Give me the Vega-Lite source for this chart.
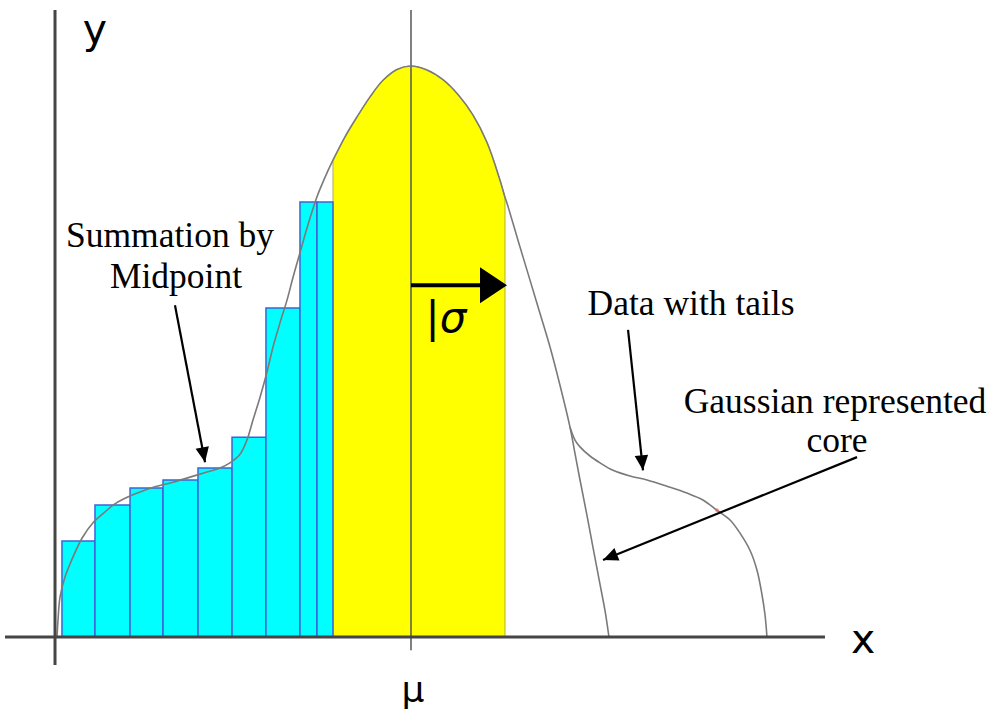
{
  "$schema": "https://vega.github.io/schema/vega-lite/v6.json",
  "width": 993,
  "height": 717,
  "autosize": {"type": "fit", "contains": "padding"},
  "padding": 0,
  "background": "white",
  "config": {"view": {"stroke": null}},
  "datasets": {
    "yellow": [
      {"x": -0.830, "y": 0.835}, {"x": -0.702, "y": 0.876}, {"x": -0.574, "y": 0.911},
      {"x": -0.436, "y": 0.946}, {"x": -0.298, "y": 0.975}, {"x": -0.149, "y": 0.994},
      {"x": 0, "y": 1}, {"x": 0.170, "y": 0.993}, {"x": 0.340, "y": 0.976},
      {"x": 0.500, "y": 0.950}, {"x": 0.660, "y": 0.914}, {"x": 0.809, "y": 0.866},
      {"x": 0.947, "y": 0.800}, {"x": 1.000, "y": 0.770}
    ],
    "bars": [
      {"x0": -3.713, "x1": -3.362, "top": 0.168},
      {"x0": -3.362, "x1": -2.989, "top": 0.231},
      {"x0": -2.989, "x1": -2.638, "top": 0.261},
      {"x0": -2.638, "x1": -2.266, "top": 0.275},
      {"x0": -2.266, "x1": -1.904, "top": 0.296},
      {"x0": -1.904, "x1": -1.543, "top": 0.350},
      {"x0": -1.543, "x1": -1.181, "top": 0.576},
      {"x0": -1.181, "x1": -1.000, "top": 0.762},
      {"x0": -1.000, "x1": -0.830, "top": 0.762}
    ],
    "curves": [
      {"series": "core", "x": -3.766, "y": 0}, {"series": "core", "x": -3.755, "y": 0.030},
      {"series": "core", "x": -3.734, "y": 0.070}, {"series": "core", "x": -3.681, "y": 0.105},
      {"series": "core", "x": -3.596, "y": 0.140}, {"series": "core", "x": -3.500, "y": 0.173},
      {"series": "core", "x": -3.383, "y": 0.200}, {"series": "core", "x": -3.255, "y": 0.219},
      {"series": "core", "x": -3.170, "y": 0.231}, {"series": "core", "x": -3.043, "y": 0.243},
      {"series": "core", "x": -2.883, "y": 0.254}, {"series": "core", "x": -2.723, "y": 0.263},
      {"series": "core", "x": -2.532, "y": 0.271}, {"series": "core", "x": -2.351, "y": 0.280},
      {"series": "core", "x": -2.170, "y": 0.289}, {"series": "core", "x": -2.032, "y": 0.296},
      {"series": "core", "x": -1.926, "y": 0.305}, {"series": "core", "x": -1.819, "y": 0.320},
      {"series": "core", "x": -1.745, "y": 0.345}, {"series": "core", "x": -1.681, "y": 0.380},
      {"series": "core", "x": -1.606, "y": 0.420}, {"series": "core", "x": -1.532, "y": 0.464},
      {"series": "core", "x": -1.468, "y": 0.508}, {"series": "core", "x": -1.394, "y": 0.550},
      {"series": "core", "x": -1.319, "y": 0.590}, {"series": "core", "x": -1.255, "y": 0.630},
      {"series": "core", "x": -1.181, "y": 0.673}, {"series": "core", "x": -1.096, "y": 0.722},
      {"series": "core", "x": -1.000, "y": 0.771}, {"series": "core", "x": -0.915, "y": 0.805},
      {"series": "core", "x": -0.830, "y": 0.835}, {"series": "core", "x": -0.702, "y": 0.876},
      {"series": "core", "x": -0.574, "y": 0.911}, {"series": "core", "x": -0.436, "y": 0.946},
      {"series": "core", "x": -0.298, "y": 0.975}, {"series": "core", "x": -0.149, "y": 0.994},
      {"series": "core", "x": 0, "y": 1}, {"series": "core", "x": 0.170, "y": 0.993},
      {"series": "core", "x": 0.340, "y": 0.976}, {"series": "core", "x": 0.500, "y": 0.950},
      {"series": "core", "x": 0.660, "y": 0.914}, {"series": "core", "x": 0.809, "y": 0.866},
      {"series": "core", "x": 0.947, "y": 0.800}, {"series": "core", "x": 1.000, "y": 0.770},
      {"series": "core", "x": 1.021, "y": 0.760}, {"series": "core", "x": 1.138, "y": 0.695},
      {"series": "core", "x": 1.266, "y": 0.625}, {"series": "core", "x": 1.372, "y": 0.567},
      {"series": "core", "x": 1.479, "y": 0.508}, {"series": "core", "x": 1.585, "y": 0.441},
      {"series": "core", "x": 1.691, "y": 0.368}, {"series": "core", "x": 1.745, "y": 0.321},
      {"series": "core", "x": 1.798, "y": 0.275}, {"series": "core", "x": 1.872, "y": 0.213},
      {"series": "core", "x": 1.936, "y": 0.157}, {"series": "core", "x": 2.011, "y": 0.092},
      {"series": "core", "x": 2.064, "y": 0.046}, {"series": "core", "x": 2.106, "y": 0},
      {"series": "tail", "x": 1.691, "y": 0.368}, {"series": "tail", "x": 1.745, "y": 0.345},
      {"series": "tail", "x": 1.798, "y": 0.333}, {"series": "tail", "x": 1.904, "y": 0.317},
      {"series": "tail", "x": 2.011, "y": 0.305}, {"series": "tail", "x": 2.149, "y": 0.292},
      {"series": "tail", "x": 2.330, "y": 0.282}, {"series": "tail", "x": 2.511, "y": 0.275},
      {"series": "tail", "x": 2.723, "y": 0.264}, {"series": "tail", "x": 2.936, "y": 0.252},
      {"series": "tail", "x": 3.106, "y": 0.240}, {"series": "tail", "x": 3.255, "y": 0.222},
      {"series": "tail", "x": 3.394, "y": 0.205}, {"series": "tail", "x": 3.500, "y": 0.182},
      {"series": "tail", "x": 3.606, "y": 0.152}, {"series": "tail", "x": 3.681, "y": 0.117},
      {"series": "tail", "x": 3.734, "y": 0.074}, {"series": "tail", "x": 3.766, "y": 0.039},
      {"series": "tail", "x": 3.787, "y": 0}
    ],
    "muLine": [{"x0": 0, "x1": 0, "y0": -0.023, "y1": 1.098}],
    "axes": [
      {"axis": "y", "x0": -3.787, "x1": -3.787, "y0": -0.049, "y1": 1.098},
      {"axis": "x", "x0": -4.319, "x1": 4.404, "y0": 0, "y1": 0}
    ],
    "arrows": [
      {"label": "Summation by Midpoint", "x0": -2.511, "y0": 0.581, "x1": -2.191, "y1": 0.306, "heading": 169.2},
      {"label": "Data with tails", "x0": 2.309, "y0": 0.538, "x1": 2.468, "y1": 0.292, "heading": 173.9},
      {"label": "Gaussian represented core", "x0": 4.745, "y0": 0.315, "x1": 2.043, "y1": 0.135, "heading": 247.9}
    ],
    "sigma": [{"x0": 0, "y0": 0.616, "x1": 0.787, "y1": 0.616, "tx": 1.021, "heading": 90}],
    "notes": [
      {"text": "Summation by", "x": -2.564, "y": 0.683},
      {"text": "Midpoint", "x": -2.500, "y": 0.611},
      {"text": "Data with tails", "x": 2.979, "y": 0.564},
      {"text": "Gaussian represented", "x": 4.511, "y": 0.392},
      {"text": "core", "x": 4.532, "y": 0.324}
    ],
    "axisTitles": [
      {"text": "y", "x": -3.362, "y": 1.040},
      {"text": "x", "x": 4.809, "y": -0.028}
    ],
    "mu": [{"text": "μ", "x": 0.021, "y": -0.114}],
    "sigmaLabel": [{"text": "|σ", "x": 0.372, "y": 0.534}],
    "mark": [{"x": 3.255, "y": 0.222}]
  },
  "layer": [
    {
      "data": {"name": "yellow"},
      "mark": {"type": "area", "color": "#FFFF00", "interpolate": "catmull-rom", "stroke": "#9a9a40", "strokeWidth": 0.8},
      "encoding": {
        "x": {"field": "x", "type": "quantitative", "scale": {"domain": [-4.3723, 6.1915], "nice": false, "zero": false}, "axis": null},
        "y": {"field": "y", "type": "quantitative", "scale": {"domain": [-0.1401, 1.1156], "nice": false, "zero": false}, "axis": null},
        "y2": {"datum": 0}
      }
    },
    {
      "data": {"name": "bars"},
      "mark": {"type": "rect", "fill": "#00FFFF", "stroke": "#3f62d8", "strokeWidth": 1.5},
      "encoding": {
        "x": {"field": "x0", "type": "quantitative", "scale": {"domain": [-4.3723, 6.1915], "nice": false, "zero": false}, "axis": null},
        "x2": {"field": "x1"},
        "y": {"field": "top", "type": "quantitative", "scale": {"domain": [-0.1401, 1.1156], "nice": false, "zero": false}, "axis": null},
        "y2": {"datum": 0}
      }
    },
    {
      "data": {"name": "muLine"},
      "mark": {"type": "rule", "color": "#555555", "strokeWidth": 1.5},
      "encoding": {
        "x": {"field": "x0", "type": "quantitative", "scale": {"domain": [-4.3723, 6.1915], "nice": false, "zero": false}, "axis": null},
        "x2": {"field": "x1"},
        "y": {"field": "y0", "type": "quantitative", "scale": {"domain": [-0.1401, 1.1156], "nice": false, "zero": false}, "axis": null},
        "y2": {"field": "y1"}
      }
    },
    {
      "data": {"name": "curves"},
      "mark": {"type": "line", "color": "#7a7a7a", "strokeWidth": 1.6, "interpolate": "catmull-rom"},
      "encoding": {
        "x": {"field": "x", "type": "quantitative", "scale": {"domain": [-4.3723, 6.1915], "nice": false, "zero": false}, "axis": null},
        "y": {"field": "y", "type": "quantitative", "scale": {"domain": [-0.1401, 1.1156], "nice": false, "zero": false}, "axis": null},
        "detail": {"field": "series", "type": "nominal"}
      }
    },
    {
      "data": {"name": "axes"},
      "mark": {"type": "rule", "color": "#454545", "strokeWidth": 3},
      "encoding": {
        "x": {"field": "x0", "type": "quantitative", "scale": {"domain": [-4.3723, 6.1915], "nice": false, "zero": false}, "axis": null},
        "x2": {"field": "x1"},
        "y": {"field": "y0", "type": "quantitative", "scale": {"domain": [-0.1401, 1.1156], "nice": false, "zero": false}, "axis": null},
        "y2": {"field": "y1"}
      }
    },
    {
      "data": {"name": "mark"},
      "mark": {"type": "point", "filled": true, "color": "#ff5a5a", "size": 14, "opacity": 0.6},
      "encoding": {
        "x": {"field": "x", "type": "quantitative", "scale": {"domain": [-4.3723, 6.1915], "nice": false, "zero": false}, "axis": null},
        "y": {"field": "y", "type": "quantitative", "scale": {"domain": [-0.1401, 1.1156], "nice": false, "zero": false}, "axis": null}
      }
    },
    {
      "data": {"name": "arrows"},
      "mark": {"type": "rule", "color": "#000000", "strokeWidth": 2.2},
      "encoding": {
        "x": {"field": "x0", "type": "quantitative", "scale": {"domain": [-4.3723, 6.1915], "nice": false, "zero": false}, "axis": null},
        "x2": {"field": "x1"},
        "y": {"field": "y0", "type": "quantitative", "scale": {"domain": [-0.1401, 1.1156], "nice": false, "zero": false}, "axis": null},
        "y2": {"field": "y1"}
      }
    },
    {
      "data": {"name": "arrows"},
      "mark": {"type": "point", "shape": "M0,0 L-0.45,1 L0.45,1 Z", "filled": true, "color": "#000000", "size": 900, "opacity": 1},
      "encoding": {
        "x": {"field": "x1", "type": "quantitative", "scale": {"domain": [-4.3723, 6.1915], "nice": false, "zero": false}, "axis": null},
        "y": {"field": "y1", "type": "quantitative", "scale": {"domain": [-0.1401, 1.1156], "nice": false, "zero": false}, "axis": null},
        "angle": {"field": "heading", "type": "quantitative", "scale": null}
      }
    },
    {
      "data": {"name": "sigma"},
      "mark": {"type": "rule", "color": "#000000", "strokeWidth": 4},
      "encoding": {
        "x": {"field": "x0", "type": "quantitative", "scale": {"domain": [-4.3723, 6.1915], "nice": false, "zero": false}, "axis": null},
        "x2": {"field": "x1"},
        "y": {"field": "y0", "type": "quantitative", "scale": {"domain": [-0.1401, 1.1156], "nice": false, "zero": false}, "axis": null},
        "y2": {"field": "y1"}
      }
    },
    {
      "data": {"name": "sigma"},
      "mark": {"type": "point", "shape": "M0,0 L-0.67,1 L0.67,1 Z", "filled": true, "color": "#000000", "size": 2916, "opacity": 1},
      "encoding": {
        "x": {"field": "tx", "type": "quantitative", "scale": {"domain": [-4.3723, 6.1915], "nice": false, "zero": false}, "axis": null},
        "y": {"field": "y0", "type": "quantitative", "scale": {"domain": [-0.1401, 1.1156], "nice": false, "zero": false}, "axis": null},
        "angle": {"field": "heading", "type": "quantitative", "scale": null}
      }
    },
    {
      "data": {"name": "notes"},
      "mark": {"type": "text", "font": "Liberation Serif", "fontSize": 35.5, "align": "center", "baseline": "alphabetic", "color": "#000000"},
      "encoding": {
        "x": {"field": "x", "type": "quantitative", "scale": {"domain": [-4.3723, 6.1915], "nice": false, "zero": false}, "axis": null},
        "y": {"field": "y", "type": "quantitative", "scale": {"domain": [-0.1401, 1.1156], "nice": false, "zero": false}, "axis": null},
        "text": {"field": "text", "type": "nominal"}
      }
    },
    {
      "data": {"name": "axisTitles"},
      "mark": {"type": "text", "font": "DejaVu Sans", "fontSize": 41, "align": "center", "baseline": "alphabetic", "color": "#000000"},
      "encoding": {
        "x": {"field": "x", "type": "quantitative", "scale": {"domain": [-4.3723, 6.1915], "nice": false, "zero": false}, "axis": null},
        "y": {"field": "y", "type": "quantitative", "scale": {"domain": [-0.1401, 1.1156], "nice": false, "zero": false}, "axis": null},
        "text": {"field": "text", "type": "nominal"}
      }
    },
    {
      "data": {"name": "mu"},
      "mark": {"type": "text", "font": "DejaVu Sans", "fontSize": 36, "align": "center", "baseline": "alphabetic", "color": "#000000"},
      "encoding": {
        "x": {"field": "x", "type": "quantitative", "scale": {"domain": [-4.3723, 6.1915], "nice": false, "zero": false}, "axis": null},
        "y": {"field": "y", "type": "quantitative", "scale": {"domain": [-0.1401, 1.1156], "nice": false, "zero": false}, "axis": null},
        "text": {"field": "text", "type": "nominal"}
      }
    },
    {
      "data": {"name": "sigmaLabel"},
      "mark": {"type": "text", "font": "DejaVu Sans", "fontStyle": "italic", "fontSize": 42, "align": "center", "baseline": "alphabetic", "color": "#000000"},
      "encoding": {
        "x": {"field": "x", "type": "quantitative", "scale": {"domain": [-4.3723, 6.1915], "nice": false, "zero": false}, "axis": null},
        "y": {"field": "y", "type": "quantitative", "scale": {"domain": [-0.1401, 1.1156], "nice": false, "zero": false}, "axis": null},
        "text": {"field": "text", "type": "nominal"}
      }
    }
  ]
}
